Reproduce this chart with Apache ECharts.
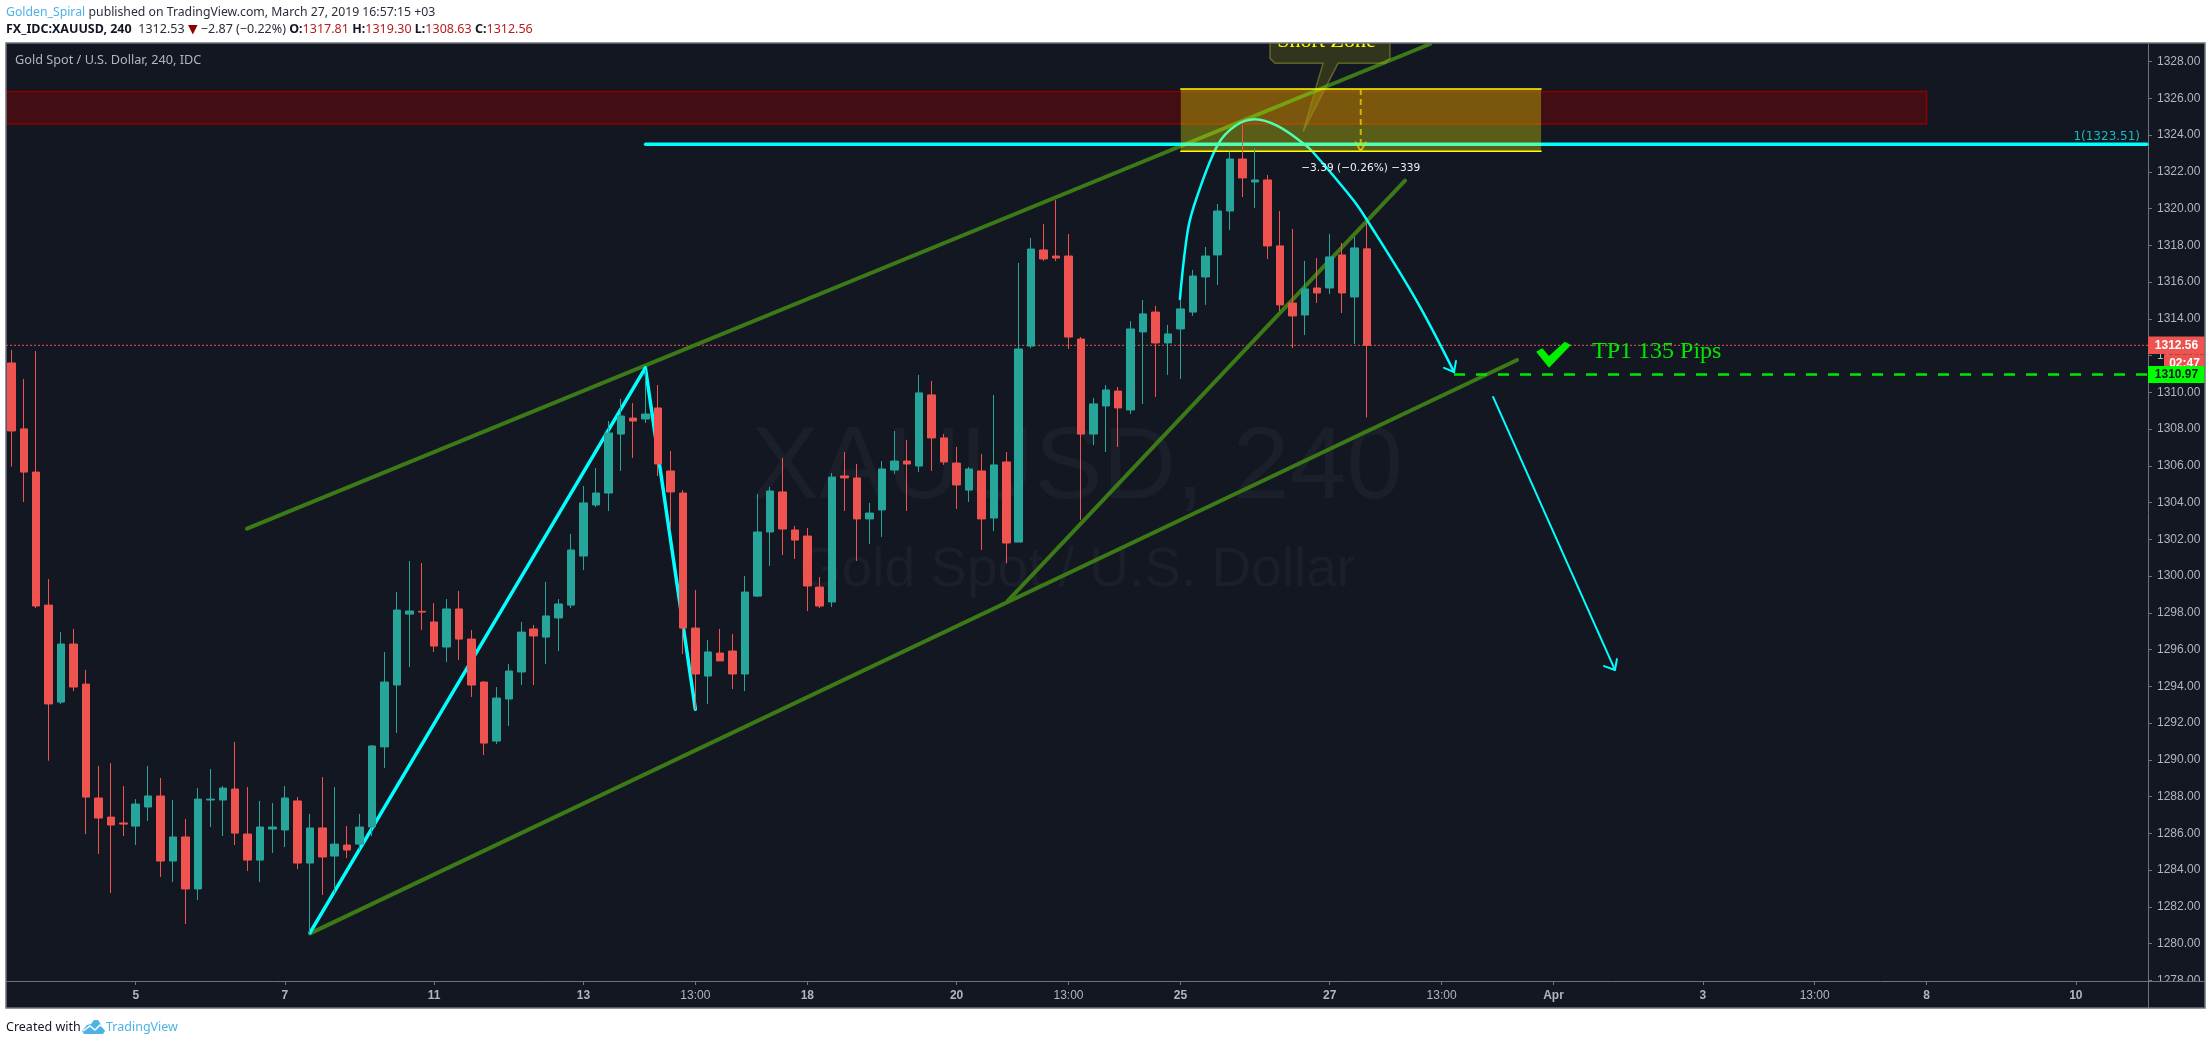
<!DOCTYPE html>
<html><head><meta charset="utf-8"><style>html,body{margin:0;padding:0;background:#fff}#c{width:2212px;height:1045px}</style>
<script src="https://cdn.jsdelivr.net/npm/echarts@6/dist/echarts.min.js"></script></head>
<body><div id="c"></div>
<script>
// ---------- candle values (240-minute XAUUSD bars) ----------
const open = [1311.60,1308.01,1305.66,1298.42,1293.14,1296.30,1294.12,1287.92,1286.88,1286.56,1286.39,1287.43,1288.03,1284.49,1285.80,1282.97,1287.81,1287.81,1288.41,1285.96,1284.54,1286.23,1286.18,1287.76,1284.38,1286.29,1284.76,1285.36,1285.41,1286.34,1290.70,1294.07,1297.93,1298.08,1297.50,1296.14,1298.21,1296.57,1294.23,1291.02,1293.31,1294.78,1297.12,1296.68,1297.72,1298.42,1301.09,1303.87,1304.52,1307.73,1308.60,1308.55,1309.15,1305.72,1304.52,1297.17,1294.56,1295.81,1295.92,1294.67,1298.91,1302.40,1304.58,1302.51,1302.18,1299.40,1298.59,1305.45,1305.34,1303.11,1303.60,1305.77,1306.26,1305.99,1309.86,1307.52,1306.15,1304.68,1305.72,1303.16,1306.21,1301.85,1312.52,1317.75,1317.42,1317.42,1312.90,1307.73,1309.26,1310.07,1309.04,1313.29,1314.37,1312.69,1313.45,1314.37,1316.28,1317.48,1319.87,1322.70,1321.45,1321.56,1317.97,1314.86,1314.21,1315.68,1315.68,1317.48,1315.19,1317.81];
const high = [1312.31,1310.73,1312.25,1299.84,1296.95,1297.12,1294.89,1289.66,1289.82,1288.57,1287.86,1289.66,1289.01,1287.81,1286.78,1288.46,1289.50,1288.57,1290.97,1288.52,1287.76,1287.65,1288.57,1287.97,1287.05,1289.06,1288.52,1286.39,1287.05,1290.80,1295.87,1299.13,1300.82,1300.71,1298.53,1298.75,1299.19,1297.06,1294.29,1293.96,1295.21,1297.50,1297.34,1299.68,1298.75,1302.29,1304.90,1305.88,1308.44,1309.64,1309.42,1311.22,1310.40,1306.81,1304.68,1299.24,1296.52,1297.12,1296.85,1300.00,1304.47,1304.85,1306.43,1302.73,1302.62,1299.95,1305.61,1306.75,1306.10,1303.98,1306.26,1307.90,1307.41,1310.95,1310.62,1307.73,1307.03,1305.94,1306.64,1309.86,1306.75,1317.04,1318.40,1319.16,1320.47,1318.62,1313.01,1309.69,1310.40,1310.29,1313.88,1315.03,1314.70,1313.67,1315.03,1316.66,1317.91,1320.25,1323.10,1324.55,1323.28,1321.83,1319.87,1318.89,1317.15,1317.31,1318.62,1318.13,1318.46,1319.30];
const low = [1305.96,1304.03,1298.26,1289.95,1293.04,1293.74,1285.96,1284.87,1282.75,1285.85,1285.36,1286.67,1283.62,1283.35,1281.06,1282.37,1286.34,1285.85,1285.36,1283.95,1283.35,1284.93,1285.25,1284.05,1280.55,1282.64,1282.73,1284.65,1285.09,1285.85,1289.55,1291.46,1295.05,1297.06,1295.87,1295.32,1295.43,1293.42,1290.26,1290.86,1291.84,1294.07,1294.07,1295.21,1295.92,1298.26,1300.33,1303.76,1303.54,1305.72,1306.43,1308.33,1305.45,1302.51,1295.76,1292.74,1293.04,1295.38,1293.85,1293.74,1298.86,1300.55,1301.15,1300.93,1298.10,1298.26,1298.32,1303.54,1300.82,1301.75,1302.13,1305.56,1303.54,1305.66,1305.72,1306.05,1303.65,1304.03,1301.42,1302.45,1300.70,1301.85,1312.41,1317.15,1317.15,1312.36,1303.05,1307.13,1306.75,1307.03,1308.82,1309.37,1309.75,1310.95,1310.73,1314.16,1314.76,1315.84,1318.84,1320.63,1320.04,1317.26,1314.43,1312.41,1313.12,1314.86,1315.35,1314.32,1312.63,1308.63];
const close = [1307.90,1305.66,1298.37,1293.04,1296.30,1293.96,1287.97,1286.83,1286.45,1286.50,1287.59,1288.03,1284.49,1285.80,1282.97,1287.86,1287.86,1288.46,1286.01,1284.54,1286.34,1286.34,1287.92,1284.38,1286.29,1284.71,1285.41,1285.09,1286.34,1290.75,1294.23,1298.15,1298.10,1298.04,1296.19,1298.21,1296.57,1294.07,1290.91,1293.36,1294.83,1296.95,1296.74,1297.83,1298.48,1301.42,1303.98,1304.52,1307.79,1308.71,1308.44,1308.82,1306.10,1304.58,1297.17,1294.67,1295.87,1295.38,1294.67,1299.13,1302.40,1304.63,1302.56,1301.96,1299.46,1298.37,1305.39,1305.34,1303.11,1303.43,1305.83,1306.26,1306.10,1309.97,1307.52,1306.21,1304.96,1305.83,1303.11,1306.05,1301.80,1312.36,1317.80,1317.26,1317.31,1313.01,1307.73,1309.37,1310.13,1309.15,1313.45,1314.27,1312.69,1313.18,1314.54,1316.33,1317.42,1319.87,1322.70,1321.67,1321.56,1317.97,1314.76,1314.16,1315.63,1315.41,1317.37,1315.41,1317.86,1312.56];

// ---------- axis ticks ----------
const yTicks = [1278,1280,1282,1284,1286,1288,1290,1292,1294,1296,1298,1300,1302,1304,1306,1308,1310,1312,1314,1316,1318,1320,1322,1324,1326,1328];
const xTickBars = [10,22,34,46,55,64,76,85,94,106,115,124,136,145,154,166];
const xTickLabels = ['5','7','11','13','13:00','18','20','13:00','25','27','13:00','Apr','3','13:00','8','10'];

// ---------- price levels ----------
const lastPrice = 1312.56;
const targetPrice = 1310.97;
const fibPrice = 1323.51;
const countdown = '02:47';

// ---------- drawings, in bar index / price ----------
const channelTopX = [18.95,114.07],      channelTopY = [1302.58,1328.96];
const channelBottomX = [24.02,121.07],   channelBottomY = [1280.55,1311.76];
const channelInnerX = [80.1,112.06],     channelInnerY = [1298.64,1321.52];
const waveUpX = [24.02,50.98],           waveUpY = [1280.59,1311.33];
const waveDownX = [50.98,55.0],          waveDownY = [1311.33,1292.75];
const arcX = [93.96,94.6,95.3,97.0,98.4,100.0,101.8,103.85,104.65,107.9,109.0,112.95,116.0];
const arcY = [1315.08,1318.84,1320.58,1323.47,1324.50,1324.86,1324.50,1323.57,1323.08,1320.47,1319.38,1315.03,1311.11];
const arcHeadX = [115.2,116.0,116.16],   arcHeadY = [1311.33,1311.11,1311.71];
const dropX = [119.14,128.94],           dropY = [1309.75,1294.89];
const dropHeadX = [128.06,128.94,129.1], dropHeadY = [1295.10,1294.89,1295.48];
const fibX = [51.0,171.7];
const targetX = [116.0,171.8];
const resistanceBox = [-0.43,1326.37,154.0,1324.61];
const rangeBox = [94.03,1326.51,123.0,1323.12];
const rangeMidX = 108.5;
const rangeHeadX = [108.1,108.5,108.9],  rangeHeadY = [1323.6,1323.12,1323.6];
const bubbleX = [101.2,101.2,101.6,105.47,103.86,106.67,110.45,110.85,110.85];
const bubbleY = [1329.5,1328.18,1327.91,1327.91,1324.19,1327.91,1327.91,1328.18,1329.5];
const checkX = [122.6,123.1,123.64,124.9,125.4,123.64];
const checkY = [1312.21,1312.40,1311.98,1312.76,1312.58,1311.34];

const XMIN = -0.43, XMAX = 171.8, YMIN = 1277.96, YMAX = 1328.96;

const candles = open.map((o,i)=>[i,o,close[i],low[i],high[i]]);
const pairs = (xs,ys)=>xs.map((x,i)=>[x,ys[i]]);
const seg = (name,xs,ys,color,width,extra)=>Object.assign({
  name,type:'line',data:pairs(xs,ys),symbol:'none',silent:true,z:2,animation:false,
  lineStyle:{color,width,cap:'round'}},extra||{});
const boxSeries = (name,box,fill,stroke,lw,z)=>({
  name,type:'custom',silent:true,z,animation:false,clip:true,
  data:[box],encode:{x:[0,2],y:[1,3]},
  renderItem:(p,api)=>{
    const a=api.coord([api.value(0),api.value(1)]),b=api.coord([api.value(2),api.value(3)]);
    return {type:'rect',shape:{x:a[0],y:a[1],width:b[0]-a[0],height:b[1]-a[1]},style:{fill,stroke,lineWidth:lw}};
  }});
const polySeries = (name,xs,ys,fill,stroke,lw,z)=>({
  name,type:'custom',silent:true,z,animation:false,clip:false,
  data:pairs(xs,ys),encode:{x:0,y:1},
  renderItem:(p,api)=>p.dataIndex!==0?null:{type:'polygon',
    shape:{points:pairs(xs,ys).map(q=>api.coord(q))},style:{fill,stroke,lineWidth:lw}}});
const note = (text,x,y,fill,font,align,z)=>({
  name:text,type:'custom',silent:true,z:z||6,animation:false,clip:false,
  data:[[x,y]],encode:{x:0,y:1},
  renderItem:(p,api)=>{
    const a=api.coord([api.value(0),api.value(1)]);
    return {type:'text',style:{text,x:a[0],y:a[1],fill,font,align:align||'center',verticalAlign:'middle'}};
  }});
const tag = (name,price,label,bg,fg,w,h,dy)=>({
  name,type:'custom',silent:true,z:7,animation:false,clip:false,
  data:[[XMAX,price]],encode:{x:0,y:1},
  renderItem:(p,api)=>{
    const a=api.coord([api.value(0),api.value(1)]);
    const right=a[0]+57;
    return {type:'group',children:[
      {type:'rect',shape:{x:right-w,y:a[1]-h/2+dy,width:w,height:h},style:{fill:bg}},
      {type:'text',style:{text:label,x:right-w/2,y:a[1]+dy,fill:fg,font:'bold 12px "Liberation Sans"',align:'center',verticalAlign:'middle'}}
    ]};
  }});

const AXC='#6f737b', TXT='#b2b5be', BG='#131722', F='"Noto Sans"';
const option = {
  backgroundColor:'#ffffff',animation:false,
  grid:{left:6,top:44,right:64,bottom:64,show:false},
  xAxis:{type:'value',min:XMIN,max:XMAX,z:3,splitLine:{show:false},
    axisLine:{show:true,onZero:false,lineStyle:{color:AXC}},
    axisTick:{show:true,length:4,lineStyle:{color:AXC},customValues:xTickBars},
    axisLabel:{show:true,margin:9,customValues:xTickBars,
      formatter:v=>{const s=xTickLabels[xTickBars.indexOf(v)];return s===undefined?'':(s.indexOf(':')>0?'{t|'+s+'}':'{d|'+s+'}');},
      rich:{d:{color:TXT,fontFamily:'Liberation Sans',fontSize:12,fontWeight:'bold'},
            t:{color:TXT,fontFamily:'Liberation Sans',fontSize:12}}}},
  yAxis:{type:'value',position:'right',min:YMIN,max:YMAX,z:0,splitLine:{show:false},
    axisLine:{show:true,onZero:false,lineStyle:{color:AXC}},
    axisTick:{show:true,length:4,lineStyle:{color:AXC},customValues:yTicks},
    axisLabel:{show:true,margin:9,color:TXT,fontFamily:'Liberation Sans',fontSize:12,customValues:yTicks,
      showMinLabel:true,showMaxLabel:true,hideOverlap:false,formatter:v=>v.toFixed(2)}},
  series:[
    seg('last price',[XMIN,XMAX],[lastPrice,lastPrice],'#ef5350',1,{lineStyle:{color:'#ef5350',width:1,type:[2,2]}}),
    seg('channel top',channelTopX,channelTopY,'#3b7a17',4),
    seg('channel bottom',channelBottomX,channelBottomY,'#3b7a17',4),
    seg('channel inner',channelInnerX,channelInnerY,'#3b7a17',4),
    seg('wave up',waveUpX,waveUpY,'#00ffff',3.5),
    seg('wave down',waveDownX,waveDownY,'#00ffff',3.5),
    seg('arc',arcX,arcY,'#00ffff',2.5,{smooth:0.35}),
    seg('arc head',arcHeadX,arcHeadY,'#00ffff',2),
    seg('drop',dropX,dropY,'#00ffff',2),
    seg('drop head',dropHeadX,dropHeadY,'#00ffff',2),
    seg('fib level',fibX,[fibPrice,fibPrice],'#00ffff',3.5),
    seg('target',targetX,[targetPrice,targetPrice],'#00e800',2.5,{lineStyle:{color:'#00e800',width:2.5,type:[11,11]}}),
    boxSeries('resistance',resistanceBox,'rgba(139,0,0,0.4)','#8b0000',1.5,2),
    boxSeries('range',rangeBox,'rgba(255,255,0,0.3)',null,0,3),
    seg('range top',[rangeBox[0],rangeBox[2]],[rangeBox[1],rangeBox[1]],'#ffff00',1.5,{z:3}),
    seg('range bottom',[rangeBox[0],rangeBox[2]],[rangeBox[3],rangeBox[3]],'#ffff00',1.5,{z:3}),
    seg('range arrow',[rangeMidX,rangeMidX],[rangeBox[1],rangeBox[3]],'rgba(235,215,0,0.75)',2,{z:3,lineStyle:{color:'rgba(235,215,0,0.75)',width:2,type:[6,4]}}),
    seg('range head',rangeHeadX,rangeHeadY,'rgba(235,215,0,0.75)',2,{z:3}),
    polySeries('bubble',bubbleX,bubbleY,'rgba(255,255,0,0.13)','rgba(150,150,40,0.55)',1.5,3),
    polySeries('check',checkX,checkY,'#00f000',null,0,6),
    {name:'XAUUSD',type:'candlestick',z:4,animation:false,silent:true,barWidth:8,data:candles,encode:{x:0,y:[1,2,3,4]},
      itemStyle:{color:'#26a69a',color0:'#ef5350',borderColor:'#26a69a',borderColor0:'#ef5350',borderWidth:1}},
    note('Short Zone',105.75,1329.13,'#ffff00','22px "Liberation Serif"'),
    note('1(1323.51)',171.16,1323.90,'#12bcc0','12px "DejaVu Sans"','right'),
    note('−3.39 (−0.26%) −339',108.5,1322.18,'#eef0f5','10.6px "DejaVu Sans"'),
    note('TP1 135 Pips',127.1,1312.2,'#00e800','24px "Liberation Serif"','left'),
    tag('last tag',lastPrice,lastPrice.toFixed(2),'#ef5350','#ffffff',57,17.5,0),
    tag('time tag',lastPrice,countdown,'#ef5350','#ffffff',41,18,18),
    tag('target tag',targetPrice,targetPrice.toFixed(2),'#00ff00','#131722',57,17,0)
  ],
  graphic:{elements:[
    {type:'rect',silent:true,z:-10,shape:{x:6,y:43,width:2199,height:965},style:{fill:BG}},
    {type:'text',silent:true,z:-8,style:{text:'XAUUSD, 240',x:1077,y:470,align:'center',verticalAlign:'middle',fill:'#1b1f2a',font:'102px "Liberation Sans"'}},
    {type:'text',silent:true,z:-8,style:{text:'Gold Spot / U.S. Dollar',x:1077,y:571,align:'center',verticalAlign:'middle',fill:'#1b1f2a',font:'55px "Liberation Sans"'}},
    {type:'rect',silent:true,z:1,shape:{x:6,y:982,width:2199,height:26},style:{fill:BG}},
    {type:'rect',silent:true,z:50,shape:{x:0,y:0,width:2212,height:43},style:{fill:'#fff'}},
    {type:'rect',silent:true,z:50,shape:{x:0,y:43,width:6,height:965},style:{fill:'#fff'}},
    {type:'rect',silent:true,z:51,shape:{x:6,y:43,width:2199,height:965},style:{fill:'none',stroke:AXC,lineWidth:1.5}},
    {type:'line',silent:true,z:51,shape:{x1:2148.5,y1:981,x2:2148.5,y2:1008},style:{stroke:AXC,lineWidth:1}},
    {type:'line',silent:true,z:51,shape:{x1:2148,y1:981.5,x2:2205,y2:981.5},style:{stroke:AXC,lineWidth:1}},
    {type:'text',silent:true,z:52,style:{x:6,y:12.5,verticalAlign:'middle',text:'{a|Golden_Spiral} {b|published on TradingView.com, March 27, 2019 16:57:15 +03}',
      rich:{a:{fill:'#4db3e6',font:'12.25px '+F},b:{fill:'#2a2e39',font:'12.25px '+F}}}},
    {type:'text',silent:true,z:52,style:{x:6,y:29.5,verticalAlign:'middle',text:'{k|FX_IDC:XAUUSD, 240}  {b|1312.53} {r|▼} {b|−2.87 (−0.22%)} {k|O:}{v|1317.81} {k|H:}{v|1319.30} {k|L:}{v|1308.63} {k|C:}{v|1312.56}',
      rich:{k:{fill:'#131722',font:'bold 12.5px '+F},b:{fill:'#2a2e39',font:'12.5px '+F},r:{fill:'#8b0000',font:'12.5px "DejaVu Sans"'},v:{fill:'#b71c1c',font:'12.5px '+F}}}},
    {type:'text',silent:true,z:52,style:{x:15,y:60,verticalAlign:'middle',text:'Gold Spot / U.S. Dollar, 240, IDC',fill:TXT,font:'12.7px '+F}},
    {type:'text',silent:true,z:52,style:{x:6,y:1027,verticalAlign:'middle',text:'Created with',fill:'#131722',font:'12.5px '+F}},
    {type:'text',silent:true,z:52,style:{x:106,y:1027,verticalAlign:'middle',text:'TradingView',fill:'#4db3e6',font:'12.5px '+F}},
    {type:'polygon',silent:true,z:52,shape:{points:[[82,1031],[87,1025],[91,1024],[94,1020],[98,1020],[102,1026],[105,1031],[103,1034],[84,1034]]},style:{fill:'#4db3e6'}},
    {type:'polyline',silent:true,z:53,shape:{points:[[83,1031],[90,1026],[95,1030],[100,1025],[105,1029]]},style:{fill:'none',stroke:'#ffffff',lineWidth:1.5}}
  ]}
};
const chart = echarts.init(document.getElementById('c'),null,{renderer:'canvas'});
chart.setOption(option);
</script></body></html>
